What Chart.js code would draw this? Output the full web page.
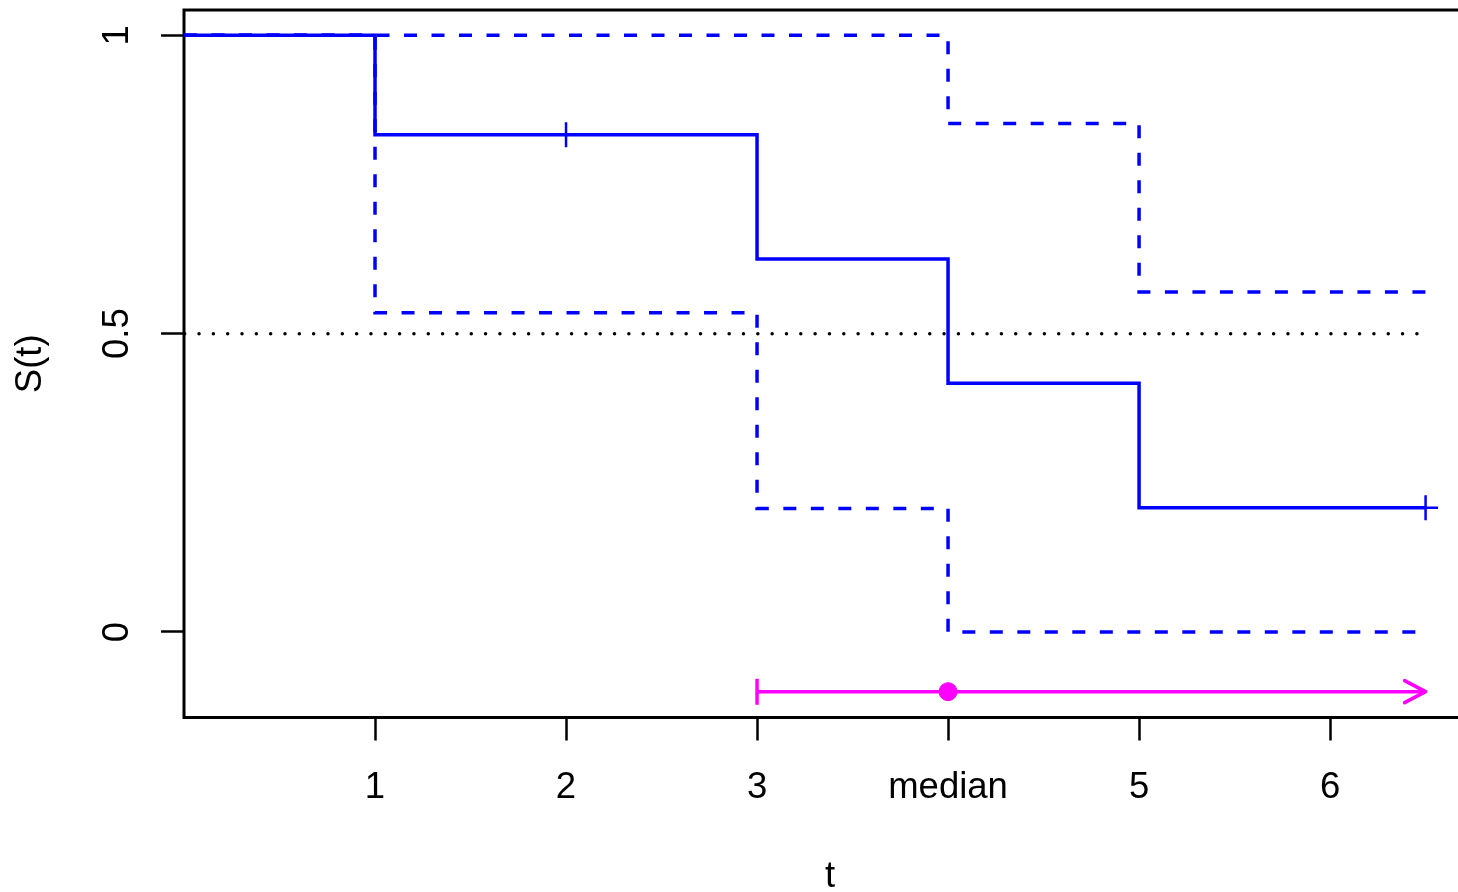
<!DOCTYPE html>
<html>
<head>
<meta charset="utf-8">
<script src="https://cdn.jsdelivr.net/npm/chart.js@4.4.1/dist/chart.umd.min.js"></script>
<style>
    html, body { margin: 0; padding: 0; background: #fff; overflow: hidden; }
    #wrap { width: 1480px; height: 892px; }
</style>
</head>
<body>
<div id="wrap"><canvas id="km" width="1480" height="892"></canvas></div>
<script>
// Kaplan-Meier estimate with pointwise confidence band
const kmTime = [0, 1, 3, 4, 5, 6.5];
const kmSurv = [1, 0.8333, 0.625, 0.4167, 0.2083, 0.2083];
const upperSurv = [1, 1, 1, 0.852, 0.570, 0.570];
const lowerSurv = [1, 0.535, 0.207, 0, 0, 0];

// censored observations
const censorTime = [2, 6.5];
const censorSurv = [0.8333, 0.2083];

// reference line at S(t) = 0.5
const refTime = [0, 6.5];
const refSurv = [0.5, 0.5];

// median with its interval (upper limit open, drawn as arrow)
const medianTime = [3, 4, 6.5];
const medianLevel = [-0.1, -0.1, -0.1];

// axis ticks
const xTickValues = [1, 2, 3, 4, 5, 6];
const xTickLabels = ['1', '2', '3', 'median', '5', '6'];
const yTickValues = [0, 0.5, 1];
const yTickLabels = ['0', '0.5', '1'];

const BLUE = '#0000ff';
const MAGENTA = '#ff00ff';
const FONT = "'Liberation Sans', Arial, Helvetica, sans-serif";

const toPoints = (xs, ys) => xs.map((x, i) => ({x: x, y: ys[i]}));

// box around the plot region and the open arrow head of the median interval
const framePlugin = {
    id: 'frame',
    beforeDatasetsDraw(chart) {
        const {ctx, chartArea: a} = chart;
        ctx.save();
        ctx.strokeStyle = '#000';
        ctx.lineWidth = 3;
        ctx.strokeRect(a.left, a.top, a.right - a.left, a.bottom - a.top);
        ctx.restore();
    },
    afterDatasetsDraw(chart) {
        const meta = chart.getDatasetMeta(5);
        const tip = meta.data[meta.data.length - 1];
        const ctx = chart.ctx;
        ctx.save();
        ctx.strokeStyle = MAGENTA;
        ctx.lineWidth = 3.5;
        ctx.lineCap = 'round';
        ctx.lineJoin = 'round';
        ctx.beginPath();
        ctx.moveTo(tip.x - 21, tip.y - 11);
        ctx.lineTo(tip.x, tip.y);
        ctx.lineTo(tip.x - 21, tip.y + 11);
        ctx.stroke();
        ctx.restore();
    }
};

new Chart(document.getElementById('km'), {
    type: 'line',
    data: {
        datasets: [
            {
                label: 'S(t)',
                data: toPoints(kmTime, kmSurv),
                borderColor: BLUE,
                borderWidth: 3.5,
                stepped: 'before',
                pointRadius: 0
            },
            {
                label: 'upper',
                data: toPoints(kmTime, upperSurv),
                borderColor: BLUE,
                borderWidth: 3.5,
                borderDash: [13, 14.5],
                stepped: 'before',
                pointRadius: 0
            },
            {
                label: 'lower',
                data: toPoints(kmTime, lowerSurv),
                borderColor: BLUE,
                borderWidth: 3.5,
                borderDash: [13, 14.5],
                stepped: 'before',
                pointRadius: 0
            },
            {
                label: 'censored',
                type: 'scatter',
                data: toPoints(censorTime, censorSurv),
                showLine: false,
                pointStyle: 'cross',
                pointRadius: 12.5,
                pointBorderWidth: 2.5,
                pointBorderColor: BLUE,
                borderColor: BLUE
            },
            {
                label: 'half',
                data: toPoints(refTime, refSurv),
                borderColor: '#000',
                borderWidth: 3.5,
                borderCapStyle: 'round',
                borderDash: [0.01, 14.318],
                borderDashOffset: 13.64,
                pointRadius: 0
            },
            {
                label: 'median',
                data: toPoints(medianTime, medianLevel),
                borderColor: MAGENTA,
                borderWidth: 3.5,
                pointStyle: ['line', 'circle', 'circle'],
                pointRotation: [90, 0, 0],
                pointRadius: [13, 9, 0],
                pointBorderWidth: [3.5, 1, 0],
                pointBorderColor: MAGENTA,
                pointBackgroundColor: MAGENTA
            }
        ]
    },
    options: {
        responsive: false,
        animation: false,
        events: [],
        layout: { autoPadding: false, padding: { top: 10, right: 4, left: 0, bottom: 0 } },
        plugins: {
            legend: { display: false },
            tooltip: { enabled: false }
        },
        scales: {
            x: {
                type: 'linear',
                min: 0,
                max: 6.764,
                afterBuildTicks: (scale) => {
                    scale.ticks = xTickValues.map(v => ({value: v}));
                },
                afterFit: (scale) => {
                    scale.height = 174.5;
                    scale.paddingLeft = 0;
                    scale.paddingRight = 0;
                },
                border: { display: false },
                grid: {
                    drawOnChartArea: false,
                    drawTicks: true,
                    tickLength: 23,
                    tickWidth: 2.5,
                    tickColor: '#000'
                },
                ticks: {
                    autoSkip: false,
                    maxRotation: 0,
                    padding: 26,
                    color: '#000',
                    font: { family: FONT, size: 36.5 },
                    callback: (value, index) => xTickLabels[index]
                },
                title: {
                    display: true,
                    text: 't',
                    color: '#000',
                    padding: { top: 0, bottom: 0 },
                    font: { family: FONT, size: 36.5, lineHeight: 0.8 }
                }
            },
            y: {
                type: 'linear',
                min: -0.1433,
                max: 1.0424,
                afterBuildTicks: (scale) => {
                    scale.ticks = yTickValues.map(v => ({value: v}));
                },
                afterFit: (scale) => {
                    scale.width = 184;
                    scale.paddingTop = 0;
                    scale.paddingBottom = 0;
                },
                border: { display: false },
                grid: {
                    drawOnChartArea: false,
                    drawTicks: true,
                    tickLength: 23,
                    tickWidth: 2.5,
                    tickColor: '#000'
                },
                ticks: {
                    autoSkip: false,
                    minRotation: 90,
                    maxRotation: 90,
                    crossAlign: 'center',
                    padding: 18,
                    color: '#000',
                    font: { family: FONT, size: 36.5 },
                    callback: (value, index) => yTickLabels[index]
                },
                title: {
                    display: true,
                    text: 'S(t)',
                    color: '#000',
                    padding: { top: 9, bottom: 0 },
                    font: { family: FONT, size: 36.5 }
                }
            }
        }
    },
    plugins: [framePlugin]
});
</script>
</body>
</html>
